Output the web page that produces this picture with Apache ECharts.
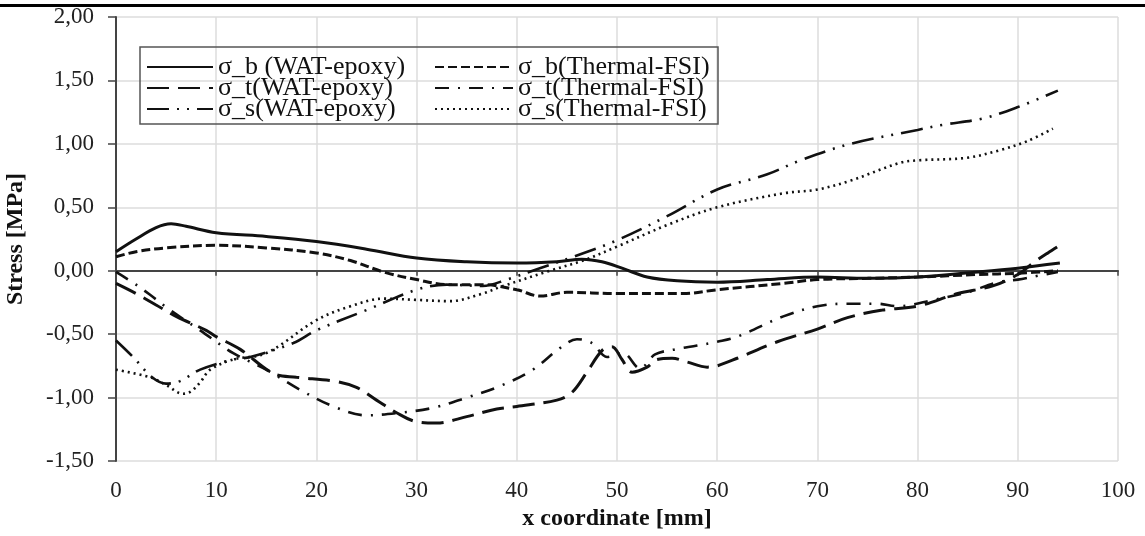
<!DOCTYPE html>
<html>
<head>
<meta charset="utf-8">
<title>Stress</title>
<script src="https://cdn.jsdelivr.net/npm/echarts@6/dist/echarts.min.js"></script>
<style>
  html, body { margin: 0; padding: 0; background: #fff; }
  #chart { width: 1145px; height: 536px; }
</style>
</head>
<body>
<div id="chart"></div>
<script>
// data, [x mm, stress MPa]
var bWat = [[0,0.15],[2,0.25],[4,0.34],[5.5,0.37],[7,0.35],[10,0.30],[15,0.27],[20,0.23],[25,0.17],[30,0.10],[35,0.07],[40,0.06],[44,0.07],[46.5,0.09],[48.5,0.07],[50.5,0.02],[53,-0.05],[56,-0.08],[60,-0.09],[65,-0.07],[70,-0.05],[75,-0.06],[80,-0.05],[86,-0.01],[90,0.02],[94.2,0.06]];
var tWat = [[0,-0.10],[2,-0.18],[4,-0.27],[6,-0.36],[9,-0.47],[10,-0.52],[12.4,-0.62],[15.7,-0.81],[18,-0.84],[21.7,-0.87],[24,-0.92],[26,-1.02],[28,-1.12],[30,-1.19],[32,-1.20],[35,-1.15],[38,-1.09],[40,-1.07],[44,-1.02],[45.5,-0.96],[47,-0.80],[48.5,-0.63],[49.5,-0.60],[50.5,-0.70],[51.5,-0.80],[53,-0.76],[54,-0.70],[55.5,-0.69],[57,-0.72],[59,-0.76],[60,-0.75],[62,-0.69],[66,-0.56],[70,-0.46],[73,-0.37],[76.5,-0.31],[80,-0.28],[84,-0.18],[87.5,-0.12],[90,-0.03],[91.5,0.06],[93,0.14],[94.2,0.20]];
var sWat = [[0,-0.55],[1.7,-0.68],[3.6,-0.84],[5,-0.89],[6.4,-0.87],[8.4,-0.78],[11.7,-0.70],[13.4,-0.68],[17.7,-0.57],[20,-0.47],[25,-0.31],[30,-0.15],[33,-0.11],[36.6,-0.12],[39,-0.07],[42.3,0.02],[46,0.12],[50,0.24],[55,0.43],[60,0.64],[65,0.76],[68.3,0.87],[73.3,1.00],[80,1.11],[82.5,1.15],[86.5,1.20],[90,1.29],[94,1.42]];
var bFsi = [[0,0.11],[2,0.15],[5,0.18],[10,0.20],[15,0.18],[20,0.14],[23.4,0.08],[26.7,-0.01],[30,-0.07],[33.3,-0.11],[36.6,-0.11],[40,-0.15],[42.3,-0.20],[45,-0.17],[50,-0.18],[56.6,-0.18],[60,-0.15],[66.6,-0.10],[70,-0.07],[75,-0.06],[80,-0.05],[86,-0.03],[90,-0.02],[94,0.0]];
var tFsi = [[0,-0.01],[2,-0.11],[3.4,-0.19],[5.4,-0.31],[8.4,-0.47],[11.7,-0.65],[15,-0.78],[18.4,-0.94],[21.7,-1.07],[25,-1.14],[28.3,-1.12],[31.7,-1.08],[35,-1.00],[38.3,-0.91],[41.6,-0.78],[44.3,-0.61],[46,-0.54],[47.5,-0.57],[49,-0.68],[50.6,-0.65],[52.3,-0.77],[53.8,-0.66],[55.8,-0.62],[58,-0.59],[60,-0.56],[62,-0.52],[66.6,-0.36],[70,-0.28],[73,-0.26],[76,-0.26],[78,-0.28],[81.6,-0.23],[85,-0.17],[88,-0.09],[90,-0.07],[92,-0.04],[94,-0.01]];
var sFsi = [[0,-0.78],[3.4,-0.84],[5,-0.90],[6.7,-0.97],[7.5,-0.95],[8.4,-0.88],[9.4,-0.78],[11.7,-0.70],[15,-0.65],[20,-0.39],[23.4,-0.28],[26.7,-0.22],[30,-0.23],[33.3,-0.24],[36.6,-0.18],[38.3,-0.13],[43.3,0.0],[46.6,0.08],[50,0.19],[55,0.36],[60,0.50],[66.6,0.61],[70,0.64],[73.3,0.71],[78.2,0.85],[80,0.87],[84.9,0.89],[88.2,0.95],[90.9,1.02],[93.5,1.12]];

var names = ['σ_b (WAT-epoxy)', 'σ_t(WAT-epoxy)', 'σ_s(WAT-epoxy)',
             'σ_b(Thermal-FSI)', 'σ_t(Thermal-FSI)', 'σ_s(Thermal-FSI)'];

var serif = '"Liberation Serif", "Times New Roman", serif';
var ink = '#111';

function line(name, data, dash, width) {
  return {
    name: name,
    type: 'line',
    data: data,
    smooth: 0.35,
    symbol: 'none',
    silent: true,
    lineStyle: { color: ink, width: width, type: dash },
    itemStyle: { color: ink }
  };
}

var legendText = { fontFamily: serif, fontSize: 26, color: '#111', lineHeight: 21.5 };

var option = {
  animation: false,
  grid: { left: 116, right: 27, top: 17, bottom: 75, outerBoundsMode: 'none' },
  legend: [
    {
      orient: 'vertical', left: 146, top: 54, padding: 0,
      itemWidth: 66, itemHeight: 14, itemGap: -5,
      itemStyle: { opacity: 0 },
      textStyle: legendText,
      data: names.slice(0, 3)
    },
    {
      orient: 'vertical', left: 434, top: 54, padding: 0,
      itemWidth: 78, itemHeight: 14, itemGap: -5,
      itemStyle: { opacity: 0 },
      textStyle: legendText,
      data: names.slice(3)
    }
  ],
  graphic: [
    { type: 'rect', shape: { x: 0, y: 4, width: 1145, height: 3 }, style: { fill: '#000' } },
    { type: 'rect', shape: { x: 140, y: 47, width: 578, height: 77 },
      style: { fill: 'none', stroke: '#555', lineWidth: 1.5 }, z: 10 }
  ],
  xAxis: {
    type: 'value', min: 0, max: 100, interval: 10,
    name: 'x coordinate [mm]', nameLocation: 'middle', nameGap: 45,
    nameTextStyle: { fontFamily: serif, fontSize: 24, fontWeight: 'bold', color: '#111' },
    axisLine: { lineStyle: { color: '#444', width: 2 } },
    axisTick: { show: true, length: 5, lineStyle: { color: '#444', width: 1.5 } },
    axisLabel: { fontFamily: serif, fontSize: 23, color: '#222', margin: 18 },
    splitLine: { show: true, lineStyle: { color: '#dcdcdc', width: 1.5 } }
  },
  yAxis: {
    type: 'value', min: -1.5, max: 2, interval: 0.5,
    name: 'Stress [MPa]', nameLocation: 'middle', nameGap: 88,
    nameTextStyle: { fontFamily: serif, fontSize: 24, fontWeight: 'bold', color: '#111' },
    axisLine: { show: true, lineStyle: { color: '#444', width: 2 } },
    axisTick: { show: true, length: 8, lineStyle: { color: '#444', width: 1.5 } },
    axisLabel: {
      fontFamily: serif, fontSize: 23, color: '#222', margin: 22,
      formatter: function (v) { return v.toFixed(2).replace('.', ','); }
    },
    splitLine: { show: true, lineStyle: { color: '#dcdcdc', width: 1.5 } }
  },
  series: [
    line(names[0], bWat, 'solid', 3),
    line(names[1], tWat, [22, 9], 3),
    line(names[2], sWat, [22, 8, 2, 8, 2, 8], 2.6),
    line(names[3], bFsi, [9, 4], 3),
    line(names[4], tFsi, [14, 9, 2, 9], 2.6),
    line(names[5], sFsi, [2, 4], 2.6)
  ]
};

var myChart = echarts.init(document.getElementById('chart'));
myChart.setOption(option);
</script>
</body>
</html>
